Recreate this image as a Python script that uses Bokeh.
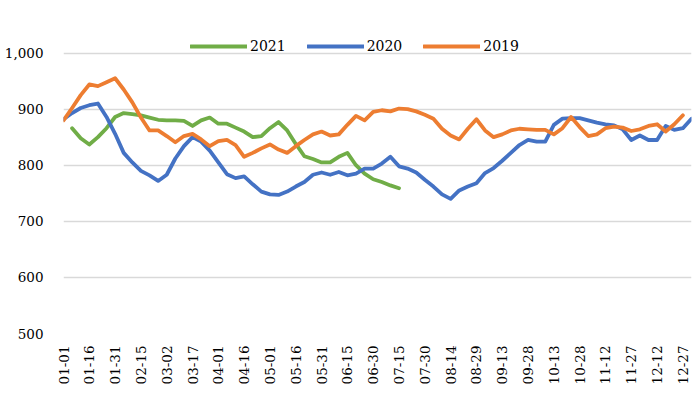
import math
from bokeh.plotting import figure
from bokeh.models import Range1d, FixedTicker, NumeralTickFormatter, Legend, LegendItem
from bokeh.embed import file_html
from bokeh.resources import INLINE

# x tick labels (one every third 5-day step)
tick_labels = ["01-01", "01-16", "01-31", "02-15", "03-02", "03-17", "04-01", "04-16",
               "05-01", "05-16", "05-31", "06-15", "06-30", "07-15", "07-30", "08-14",
               "08-29", "09-13", "09-28", "10-13", "10-28", "11-12", "11-27", "12-12", "12-27"]

y2019 = [880, 902, 925, 944, 941, 948, 955, 935, 912, 885, 862, 862, 852, 841, 852, 856,
         846, 834, 843, 845, 836, 815, 822, 830, 837, 828, 822, 834, 845, 855, 860, 853,
         855, 872, 888, 880, 895, 898, 896, 901, 900, 896, 890, 883, 865, 853, 846, 865,
         882, 862, 850, 855, 862, 865, 864, 863, 863, 855, 866, 886, 868, 852, 855, 866,
         869, 867, 861, 864, 870, 873, 860, 873, 889]

y2020 = [882, 893, 902, 907, 910, 886, 856, 822, 805, 790, 782, 772, 783, 812, 834, 850,
         842, 826, 805, 784, 777, 780, 766, 753, 748, 747, 753, 762, 770, 783, 787, 783,
         788, 782, 785, 794, 794, 803, 815, 798, 794, 787, 774, 762, 748, 740, 755, 762,
         768, 786, 795, 808, 822, 836, 845, 842, 842, 872, 883, 884, 884, 880, 876, 873,
         871, 864, 845, 853, 845, 845, 870, 863, 866, 883]

nan = float("nan")
y2021 = [nan, 866, 848, 837, 850, 866, 886, 893, 891, 889, 885, 881, 880, 880, 879, 870,
         880, 885, 874, 874, 867, 860, 850, 852, 866, 877, 862, 838, 816, 811, 805, 805,
         815, 822, 800, 785, 775, 770, 764, 759]

series = [("2021", y2021, "#70AD47"), ("2020", y2020, "#4472C4"), ("2019", y2019, "#ED7D31")]

FONT = "DejaVu Serif"

p = figure(width=692, height=396, output_backend="svg", toolbar_location=None,
           x_range=Range1d(0, 73), y_range=Range1d(500, 1058),
           min_border_left=63, min_border_right=1, min_border_top=20, min_border_bottom=63)
p.outline_line_color = None
p.background_fill_color = "white"
p.border_fill_color = "white"

items = []
for name, ys, color in series:
    xs = list(range(len(ys)))
    r = p.line(xs, ys, line_color=color, line_width=3.8, line_join="round", line_cap="round")
    items.append(LegendItem(label=name, renderers=[r]))

# axes
p.xaxis.ticker = FixedTicker(ticks=[3 * i for i in range(len(tick_labels))])
p.xaxis.major_label_overrides = {3 * i: lab for i, lab in enumerate(tick_labels)}
p.xaxis.major_label_orientation = math.pi / 2
p.xaxis.axis_line_color = None
p.xaxis.major_tick_line_color = None
p.xaxis.minor_tick_line_color = None
p.xaxis.major_tick_out = 0
p.xaxis.major_tick_in = 0
p.xaxis.major_label_standoff = 12
p.xaxis.major_label_text_font = FONT
p.xaxis.major_label_text_font_size = "13.5px"
p.xaxis.major_label_text_color = "black"

p.yaxis.ticker = FixedTicker(ticks=[500, 600, 700, 800, 900, 1000])
p.yaxis.formatter = NumeralTickFormatter(format="0,0")
p.yaxis.axis_line_color = None
p.yaxis.major_tick_line_color = None
p.yaxis.minor_tick_line_color = None
p.yaxis.major_tick_out = 0
p.yaxis.major_tick_in = 0
p.yaxis.major_label_standoff = 20
p.yaxis.major_label_text_font = FONT
p.yaxis.major_label_text_font_size = "13.5px"
p.yaxis.major_label_text_color = "black"

p.xgrid.grid_line_color = None
p.ygrid.grid_line_color = "#d9d9d9"
p.ygrid.grid_line_width = 1.5

legend = Legend(items=items, orientation="horizontal", location=(127, 279),
                glyph_width=57, glyph_height=16, label_standoff=3, spacing=21,
                padding=0, margin=0, background_fill_alpha=0, border_line_color=None,
                label_text_font=FONT, label_text_font_size="14px", label_text_color="black")
p.add_layout(legend, "center")

open("out.html", "w").write(file_html(p, INLINE))
